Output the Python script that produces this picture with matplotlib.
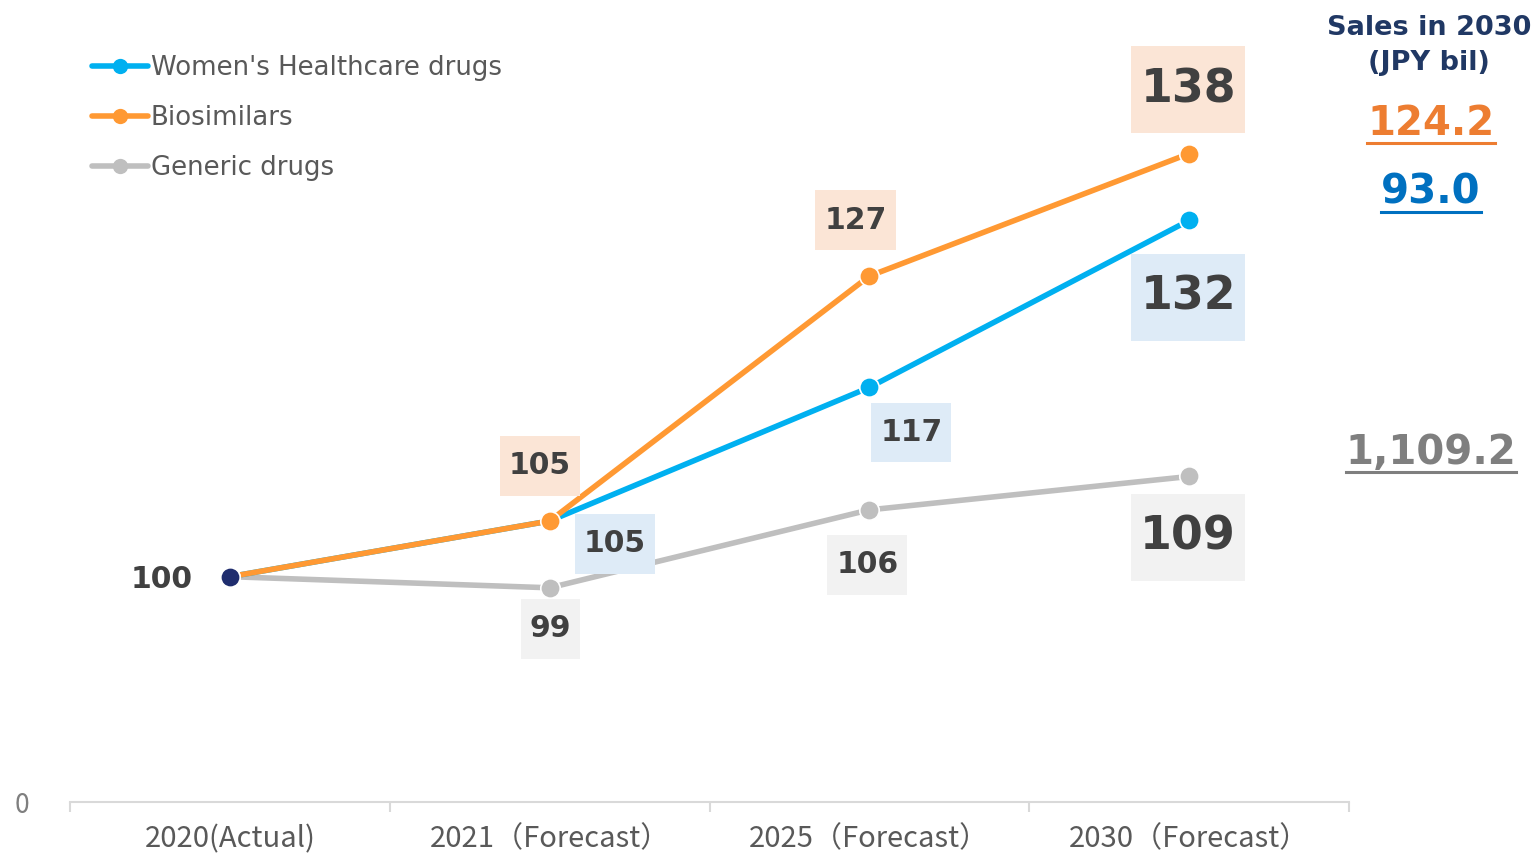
import matplotlib
matplotlib.use("Agg")
import matplotlib.pyplot as plt
from matplotlib.lines import Line2D
from matplotlib.path import Path

# ---- data -------------------------------------------------------------
categories = ["2020(Actual)", "2021（Forecast）", "2025（Forecast）", "2030（Forecast）"]
series_names = ["Women's Healthcare drugs", "Biosimilars", "Generic drugs"]
womens = [100, 105, 117, 132]
biosimilars = [100, 105, 127, 138]
generics = [100, 99, 106, 109]
sales_2030 = ["124.2", "93.0", "1,109.2"]   # JPY bil: biosimilars, women's, generics

# ---- styling ----------------------------------------------------------
C_BLUE = "#00B0F0"
C_ORANGE = "#FF9933"
C_GREY = "#BFBFBF"
C_NAVY = "#1F2D6E"
C_TEXT = "#404040"
BOX_ORANGE = "#FBE5D6"
BOX_BLUE = "#DEEBF7"
BOX_GREY = "#F2F2F2"

plt.rcParams["font.family"] = ["DejaVu Sans", "Noto Sans CJK JP"]

W, H = 1536, 855
fig = plt.figure(figsize=(W / 100, H / 100), dpi=100)
ax = fig.add_axes([70 / W, (H - 802) / H, (1349 - 70) / W, (802 - 20) / H])

y_lo, y_hi = 79.76, 150.0
ax.set_xlim(-0.5, 3.5)
ax.set_ylim(y_lo, y_hi)

x = list(range(len(categories)))
line_kw = dict(lw=4, marker="o", ms=14, mec="white", mew=1.2,
               solid_capstyle="round")
h_gen, = ax.plot(x, generics, color=C_GREY, label=series_names[2], zorder=2, **line_kw)
h_wom, = ax.plot(x, womens, color=C_BLUE, label=series_names[0], zorder=3, **line_kw)
h_bio, = ax.plot(x, biosimilars, color=C_ORANGE, label=series_names[1], zorder=4, **line_kw)
# 2020 is the common base year point
ax.plot([x[0]], [womens[0]], "o", color=C_NAVY, ms=14, mec="white", mew=1.2, zorder=6)


# ---- value labels -----------------------------------------------------
class LabelBox:
    """Square box around a label with separate horizontal padding and fixed height."""

    def __init__(self, padx, hfac):
        self.padx = padx
        self.hfac = hfac

    def __call__(self, x0, y0, width, height, mutation_size):
        cx, cy = x0 + width / 2, y0 + height / 2
        bw = width + 2 * self.padx * mutation_size
        bh = self.hfac * mutation_size
        l, r, b, t = cx - bw / 2, cx + bw / 2, cy - bh / 2, cy + bh / 2
        return Path([(l, b), (r, b), (r, t), (l, t), (l, b)], closed=True)


def label(xi, val, dx, dy, fc, size, style):
    ax.annotate(str(val), xy=(xi, val), xytext=(dx, dy), textcoords="offset pixels",
                ha="center", va="center", fontsize=size, fontweight="bold",
                color=C_TEXT, zorder=7,
                bbox=dict(boxstyle=style, fc=fc, ec="none"))


small, big = 21.5, 33
sbox = LabelBox(0.3, 2.0)
bbox_big = LabelBox(0.2, 1.9)
label(1, biosimilars[1], -10, 55, BOX_ORANGE, small, sbox)
label(2, biosimilars[2], -14, 56, BOX_ORANGE, small, sbox)
label(3, biosimilars[3], -1, 64, BOX_ORANGE, big, bbox_big)
label(1, womens[1], 65, -23, BOX_BLUE, small, sbox)
label(2, womens[2], 42, -45, BOX_BLUE, small, sbox)
label(3, womens[3], -1, -77, BOX_BLUE, big, bbox_big)
label(1, generics[1], 1, -41, BOX_GREY, small, sbox)
label(2, generics[2], -2, -55, BOX_GREY, small, sbox)
label(3, generics[3], -1, -61, BOX_GREY, big, bbox_big)
ax.annotate(str(womens[0]), xy=(0, womens[0]), xytext=(-68, -3),
            textcoords="offset pixels", ha="center", va="center",
            fontsize=small, fontweight="bold", color=C_TEXT)

# ---- axes -------------------------------------------------------------
for s in ("left", "right", "top"):
    ax.spines[s].set_visible(False)
ax.spines["bottom"].set_color("#D9D9D9")
ax.spines["bottom"].set_linewidth(1.5)

ax.set_xticks(x)
ax.set_xticklabels(categories, family=["Noto Sans CJK JP"], fontsize=21, color="#595959")
ax.set_xticks([i - 0.5 for i in range(len(categories) + 1)], minor=True)
ax.tick_params(axis="x", which="major", length=0, pad=16)
ax.tick_params(axis="x", which="minor", length=7, width=1.5, color="#D9D9D9", direction="out")

ax.set_yticks([y_lo])
ax.set_yticklabels(["0"], family=["Noto Sans CJK JP"], fontsize=19, color="#7F7F7F")
ax.tick_params(axis="y", length=0, pad=29)

# ---- legend -----------------------------------------------------------
leg = ax.legend(handles=[h_wom, h_bio, h_gen], loc="upper left",
                bbox_to_anchor=(92 / W, 1 - 55 / H),
                bbox_transform=fig.transFigure, frameon=False, fontsize=18.7,
                handlelength=2.15, handletextpad=0.12, labelspacing=0.93,
                borderpad=0, borderaxespad=0, numpoints=1)
for t in leg.get_texts():
    t.set_color("#595959")
for h in leg.legend_handles:
    h.set_markersize(11)
    h.set_markeredgewidth(0)

# ---- 2030 sales annotation -------------------------------------------
fig.text(1429 / W, 1 - 28 / H, "Sales in 2030", ha="center", va="center",
         fontsize=19.5, fontweight="bold", color="#203864")
fig.text(1429 / W, 1 - 63 / H, "(JPY bil)", ha="center", va="center",
         fontsize=19.5, fontweight="bold", color="#203864")

sales_specs = [(sales_2030[0], "#ED7D31", 124), (sales_2030[1], "#0070C0", 193),
               (sales_2030[2], "#7F7F7F", 453)]
sales_texts = []
for txt, col, ypx in sales_specs:
    t = fig.text(1431 / W, 1 - ypx / H, txt, ha="center", va="center",
                 fontsize=29, fontweight="bold", color=col)
    sales_texts.append((t, col))

renderer = fig.canvas.get_renderer()
for t, col in sales_texts:
    bb = t.get_window_extent(renderer)
    yline = bb.y0 + 1
    fig.add_artist(Line2D([bb.x0 / W, bb.x1 / W], [yline / H, yline / H],
                          transform=fig.transFigure, color=col, lw=2.2))

fig.savefig("out.png", dpi=100)
